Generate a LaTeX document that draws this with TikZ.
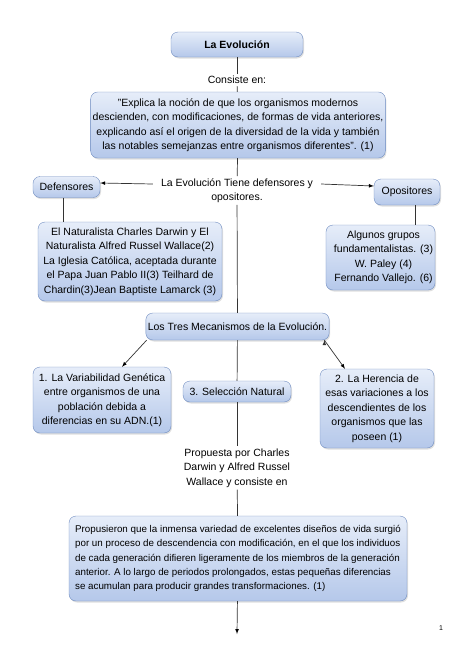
\documentclass[tikz,border=0pt]{standalone}
\usepackage{fontspec}
\setmainfont{Liberation Sans}
\usetikzlibrary{shadows}
\definecolor{boxtop}{HTML}{E6EDF9}
\definecolor{boxbot}{HTML}{B5C8EA}
\definecolor{boxline}{HTML}{6F8CC0}
\tikzset{
  caja/.style={draw=boxline, rounded corners=7pt, top color=boxtop, bottom color=boxbot,
    drop shadow={opacity=0.25, shadow xshift=1pt, shadow yshift=-1.5pt},
    align=center, inner sep=2pt, font=\fontsize{10.5}{14.5}\selectfont},
  texto/.style={align=center, inner sep=2pt, font=\fontsize{10.5}{14.5}\selectfont},
  linea/.style={draw=black!80, line width=0.7pt}
}
\begin{document}
\begin{tikzpicture}[x=1pt, y=-1pt]
\useasboundingbox (0,0) rectangle (474,670);
% cabecera
\node[caja, minimum width=132pt, minimum height=25pt] (evol) at (237,44.5) {\textbf{La Evolución}};
\node[texto] (consiste) at (237,80) {Consiste en:};
\node[caja, minimum width=290pt, minimum height=66pt] (explica) at (238,125)
  {"Explica la noción de que los organismos modernos\\ descienden, con modificaciones, de formas de vida anteriores,\\ explicando así el origen de la diversidad de la vida y también\\ las notables semejanzas entre organismos diferentes". (1)};
\node[texto] (tiene) at (237,190.5) {La Evolución Tiene defensores y\\ opositores.};
% defensores y opositores
\node[caja, minimum width=67pt, minimum height=21pt] (defens) at (66.5,187) {Defensores};
\node[caja, minimum width=66pt, minimum height=26pt] (opos) at (407,192) {Opositores};
\node[caja, minimum width=184pt, minimum height=79pt] (deflist) at (130,261.5)
  {El Naturalista Charles Darwin y El\\ Naturalista Alfred Russel Wallace(2)\\ La Iglesia Católica, aceptada durante\\ el Papa Juan Pablo II(3) Teilhard de\\ Chardin(3)Jean Baptiste Lamarck (3)};
\node[caja, minimum width=107pt, minimum height=65pt] (oplist) at (380.5,257.5)
  {\hspace*{6pt}Algunos grupos\\ \hspace*{6pt}fundamentalistas. (3)\\ \hspace*{6pt}W. Paley (4)\\ \hspace*{6pt}Fernando Vallejo. (6)};
% mecanismos
\node[caja, minimum width=179pt, minimum height=27pt] (tres) at (237.5,326.5) {Los Tres Mecanismos de la Evolución.};
\node[caja, minimum width=138pt, minimum height=66pt] (var) at (102,400)
  {1. La Variabilidad Genética\\ entre organismos de una\\ población debida a\\ diferencias en su ADN.(1)};
\node[caja, minimum width=114pt, minimum height=79pt] (her) at (377,408.5)
  {2. La Herencia de\\ esas variaciones a los\\ descendientes de los\\ organismos que las\\ poseen (1)};
\node[caja, minimum width=108pt, minimum height=21pt] (sel) at (237,391.5) {3. Selección Natural};
\node[texto] (prop) at (237,468) {Propuesta por Charles\\ Darwin y Alfred Russel\\ Wallace y consiste en};
\node[caja, minimum width=338pt, minimum height=85pt, align=left, font=\fontsize{9.8}{14.3}\selectfont] (propus) at (238,558.5)
  {Propusieron que la inmensa variedad de excelentes diseños de vida surgió\\ por un proceso de descendencia con modificación, en el que los individuos\\ de cada generación difieren ligeramente de los miembros de la generación\\ anterior. A lo largo de periodos prolongados, estas pequeñas diferencias\\ se acumulan para producir grandes transformaciones. (1)};
\coordinate (fin) at (237,634);
\node[texto, font=\fontsize{7}{8}\selectfont] (pagina) at (441,628) {1};
% conectores
\path[linea]
    (evol) edge (consiste)
    (consiste) edge (explica)
    (explica) edge (tiene)
    ([xshift=-3pt]defens.south) edge ([xshift=-3pt]defens.south |- deflist.north)
    ([xshift=8pt]opos.south) edge ([xshift=8pt]opos.south |- oplist.north)
    (tiene) edge (tres)
    (tres) edge (sel)
    (sel) edge (prop)
    (prop) edge (propus);
\path[linea, -latex]
    ([xshift=-6pt, yshift=6.5pt]tiene.west) edge ([yshift=4pt]defens.east)
    ([xshift=6pt, yshift=6.5pt]tiene.east) edge ([yshift=6pt]opos.west)
    ([xshift=1pt]tres.south west) edge ([xshift=20pt]var.north)
    ([xshift=-5pt]tres.south east) edge ([xshift=-32pt]her.north)
    (propus) edge (fin);
\end{tikzpicture}
\end{document}
